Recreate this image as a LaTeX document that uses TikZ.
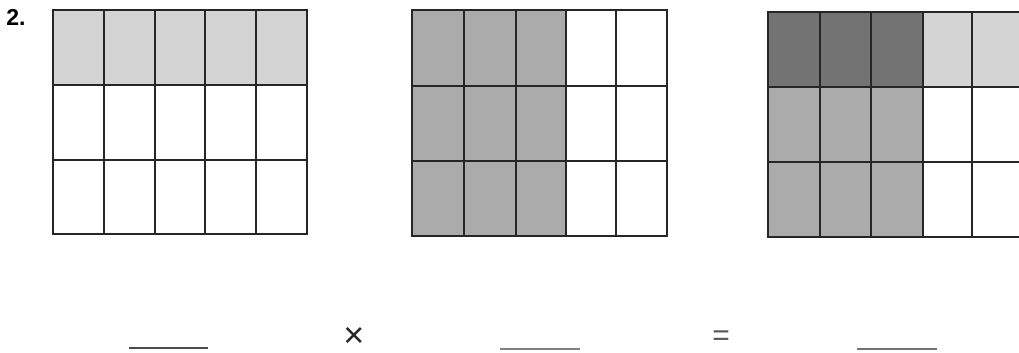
\documentclass[tikz,border=0pt]{standalone}
\usepackage{fontspec}
\setmainfont{Liberation Sans}
\begin{document}
\begin{tikzpicture}[x=1pt,y=-1pt,
  gridline/.style={draw=black!85,line width=1.6pt},
  lightfill/.style={fill=black!17},
  midfill/.style={fill=black!33},
  darkfill/.style={fill=black!55},
  blank/.style={draw=black!70,line width=1.2pt},
  lbl/.style={inner sep=0pt,font=\fontsize{23}{23}\selectfont\bfseries}]
\useasboundingbox (0,0) rectangle (1019,353);
\clip (0,0) rectangle (1019,353);
\fill[white] (0,0) rectangle (1019,353);
\node[lbl] (num) at (16,17.5) {2.};
% grid 1
\fill[lightfill] (53,10) rectangle (307,85);
\draw[gridline] (53,10) rectangle (307,234);
\foreach \x in {104,155,205,256} \draw[gridline] (\x,10) -- (\x,234);
\foreach \y in {85,160} \draw[gridline] (53,\y) -- (307,\y);
% grid 2
\fill[midfill] (412,10) rectangle (566,236);
\draw[gridline] (412,10) rectangle (667,236);
\foreach \x in {464,516,566,616} \draw[gridline] (\x,10) -- (\x,236);
\foreach \y in {86,161} \draw[gridline] (412,\y) -- (667,\y);
% grid 3
\fill[midfill] (768,87) rectangle (923,237);
\fill[darkfill] (768,12) rectangle (923,87);
\fill[lightfill] (923,12) rectangle (1023,87);
\draw[gridline] (768,12) rectangle (1023,237);
\foreach \x in {820,871,923,972} \draw[gridline] (\x,12) -- (\x,237);
\foreach \y in {87,162} \draw[gridline] (768,\y) -- (1023,\y);
% answer row
\coordinate (a1) at (129,348); \coordinate (a2) at (208,348);
\coordinate (b1) at (500,349); \coordinate (b2) at (580,349);
\coordinate (c1) at (857,349); \coordinate (c2) at (937,349);
\draw[blank] (a1) -- (a2);
\draw[blank,draw=black!50] (b1) -- (b2);
\draw[blank,draw=black!55] (c1) -- (c2);
\node[inner sep=0pt,text=black!85,font=\fontsize{36}{36}\selectfont] (times) at (354,337.5) {×};
\node[inner sep=0pt,text=black!65,font=\fontsize{30}{30}\selectfont] (eq) at (721,338) {=};
\end{tikzpicture}
\end{document}
